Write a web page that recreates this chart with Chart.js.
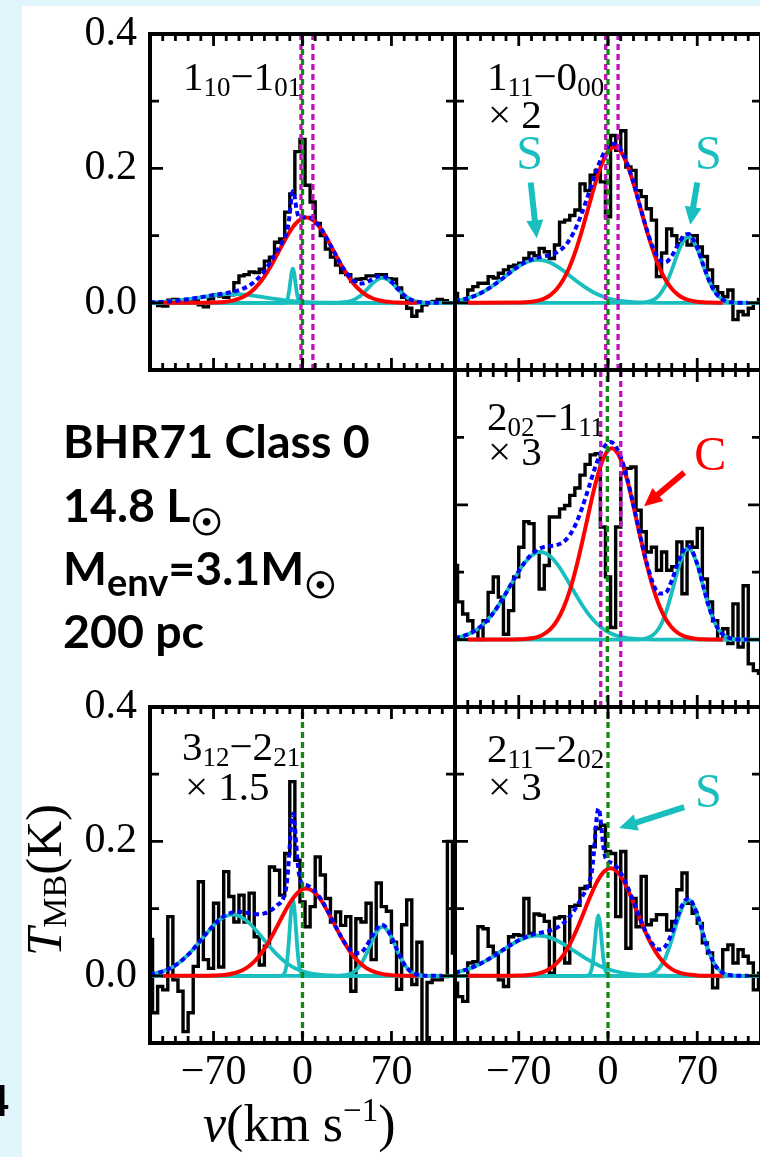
<!DOCTYPE html>
<html>
<head>
<meta charset="utf-8">
<script src="https://cdn.jsdelivr.net/npm/chart.js@4.4.1/dist/chart.umd.min.js"></script>
<style>
  html, body { margin: 0; padding: 0; }
  body { width: 760px; height: 1157px; overflow: hidden; position: relative; background: #e1f6fc; }
  #sheet { position: absolute; left: 22px; top: 6px; right: 0; bottom: 0; background: #fff; }
  canvas { position: absolute; }
  .t { position: absolute; line-height: 0; white-space: nowrap; color: #000; }
  .lab { font-family: 'Liberation Serif', serif; font-size: 41px; }
  .sb { font-size: 27px; position: relative; top: 6px; }
  .info { font-family: Lato, sans-serif; font-weight: 700; font-size: 46.5px; }
  .sun { font-family: 'DejaVu Sans', sans-serif; font-weight: 700; font-size: 36px; position: relative; top: 13px; -webkit-text-stroke: 1.2px #000; }
  .env { font-size: 38px; position: relative; top: 11px; }
  .axt { font-family: 'Liberation Serif', serif; }
</style>
</head>
<body>
<div id="sheet"></div>

<canvas id="p1"></canvas>
<canvas id="p2"></canvas>
<canvas id="p3"></canvas>
<canvas id="p4"></canvas>
<canvas id="p5"></canvas>

<!-- transition labels -->
<div class="t lab" style="left:183px;top:76px">1<span class="sb">10</span>−1<span class="sb">01</span></div>
<div class="t lab" style="left:487px;top:76px">1<span class="sb">11</span>−0<span class="sb">00</span></div>
<div class="t lab" style="left:488px;top:114px">× 2</div>
<div class="t lab" style="left:487px;top:416px">2<span class="sb">02</span>−1<span class="sb">11</span></div>
<div class="t lab" style="left:488px;top:451px">× 3</div>
<div class="t lab" style="left:182px;top:746px">3<span class="sb">12</span>−2<span class="sb">21</span></div>
<div class="t lab" style="left:185px;top:786px">× 1.5</div>
<div class="t lab" style="left:487px;top:748px">2<span class="sb">11</span>−2<span class="sb">02</span></div>
<div class="t lab" style="left:488px;top:786px">× 3</div>

<!-- source properties -->
<div class="t info" style="left:63px;top:440px">BHR71 Class 0</div>
<div class="t info" style="left:63px;top:504px">14.8 L<span class="sun">☉</span></div>
<div class="t info" style="left:63px;top:567px">M<span class="env">env</span>=3.1M<span class="sun">☉</span></div>
<div class="t info" style="left:63px;top:630px">200 pc</div>
<div class="t info" style="left:-15px;top:1100px;font-size:42px">4</div>

<!-- axis titles -->
<div class="t axt" style="left:44px;top:956px;font-size:51px;transform-origin:0 0;transform:rotate(-90deg)"><i>T</i><span style="font-size:34px;position:relative;top:5px">MB</span>(K)</div>
<div class="t axt" style="left:203px;top:1124px;font-size:52px"><i>v</i>(km s<span style="font-size:33px;position:relative;top:-20px">−1</span>)</div>

<script>
// ---- channel velocities (km/s) shared by all spectra ----
const velocity = [-120,-116,-112,-108,-104,-100,-96,-92,-88,-84,-80,-76,-72,-68,-64,-60,-56,-52,-48,-44,
  -40,-36,-32,-28,-24,-20,-16,-12,-8,-4,0,4,8,12,16,20,24,28,32,36,40,44,48,52,56,60,64,68,72,76,
  80,84,88,92,96,100,104,108,112,116,120];

// ---- observed spectra, T_MB (K) ----
const tmb_110_101 = [0,0,-0.004,-0.005,0.004,0.005,0.003,0.002,0.002,0.003,
  -0.003,-0.006,0.006,0.012,0.01,0.008,0.012,0.03,0.04,0.042,
  0.046,0.045,0.05,0.062,0.068,0.09,0.095,0.135,0.162,0.225,
  0.243,0.175,0.15,0.118,0.1,0.08,0.068,0.056,0.045,0.042,
  0.032,0.035,0.036,0.04,0.04,0.042,0.042,0.036,0.035,0.022,
  0.008,-0.008,-0.02,-0.012,-0.003,0,0.002,0.005,0.003,0,0];
const tmb_111_000 = [0.014,0.002,0.002,0.019,0.024,0.029,0.029,0.039,0.037,0.044,
  0.049,0.054,0.056,0.059,0.066,0.074,0.07,0.081,0.076,0.066,
  0.086,0.12,0.123,0.13,0.138,0.177,0.167,0.19,0.197,0.18,
  0.128,0.249,0.227,0.256,0.202,0.197,0.167,0.158,0.14,0.123,
  0.039,0.074,0.11,0.1,0.088,0.096,0.086,0.1,0.083,0.069,
  0.049,0.024,0.015,0.009,0.019,-0.025,-0.013,-0.018,-0.008,0,0.005];
const tmb_202_111 = [0.11,0.056,0.038,0.028,0.013,0,0.028,0.07,0.093,0.063,
  0.008,0.043,0.093,0.137,0.175,0.172,0.13,0.075,0.11,0.182,
  0.182,0.194,0.199,0.214,0.225,0.244,0.26,0.274,0.276,0.167,
  0.093,0.018,0.167,0.247,0.254,0.256,0.192,0.16,0.13,0.137,
  0.103,0.13,0.103,0.108,0.145,0.068,0.145,0.137,0.165,0.09,
  0.056,0.028,0,0.016,-0.006,0.053,-0.011,0.08,-0.036,-0.046,-0.05];
const tmb_312_221 = [0.054,-0.055,-0.016,-0.021,0.088,-0.006,-0.023,-0.083,-0.055,0.014,
  0.14,0.024,0.011,0.108,0.013,0.155,0.118,0.08,0.12,0.08,
  0.123,0.058,0.016,0.044,0.162,0.157,0.12,0.182,0.289,0.172,
  0.11,0.073,0.103,0.177,0.15,0.115,0.08,0.095,0.075,0.088,
  -0.023,0.085,0.08,0.108,0.024,0.138,0.103,0.096,0.05,-0.02,
  0.076,0.113,-0.013,0.05,-0.12,-0.01,-0.006,-0.006,-0.001,0.2,0.034];
const tmb_211_202 = [-0.011,-0.031,-0.038,0.019,0.021,0.073,0.07,0.044,0.034,-0.006,
  -0.016,0.058,0.061,0.06,0.115,0.063,0.092,0.09,0.081,0.004,
  0.086,0.088,0.019,0.103,0.105,0.13,0.133,0.192,0.219,0.224,
  0.185,0.182,0.088,0.185,0.041,0.115,0.073,0.148,0.076,0.083,
  0.091,0.091,0.068,0.081,0.128,0.153,0.108,0.093,0.078,0.049,
  0.034,-0.018,-0.001,0.039,0.046,0.019,0.039,0.029,0.019,-0.021,0.004];

// ---- fitted components, [v, T] ----
// 1_10-1_01
const cav_110 = [[-110,0],[-75,0.0002],[-70,0.0004],[-65,0.0009],[-60,0.0017],[-55,0.0033],[-50,0.0061],[-45,0.0105],[-40,0.0172],[-35,0.0267],[-30,0.0391],[-25,0.0544],[-20,0.0717],[-15,0.0895],[-10,0.1058],[-5,0.1185],[0,0.1258],[3,0.127],[5,0.1265],[10,0.1204],[15,0.1087],[20,0.0929],[25,0.0752],[30,0.0577],[35,0.042],[40,0.0289],[45,0.0189],[50,0.0116],[55,0.0068],[60,0.0038],[65,0.002],[70,0.001],[75,0.0005],[90,0]];
const shockB_110 = [[-120,0.0006],[-115,0.0009],[-110,0.0014],[-105,0.002],[-100,0.0029],[-95,0.004],[-90,0.0053],[-85,0.0067],[-80,0.0082],[-75,0.0097],[-70,0.011],[-65,0.0121],[-60,0.0128],[-55,0.013],[-50,0.0128],[-45,0.0121],[-40,0.011],[-35,0.0097],[-30,0.0082],[-25,0.0067],[-20,0.0053],[-15,0.004],[-10,0.0029],[-5,0.002],[0,0.0014],[5,0.0009],[10,0.0006],[15,0.0004],[25,0.0001],[40,0],[120,0]];
const narrow_110 = [[-120,0],[-14,0],[-12,0.0045],[-10.5,0.0178],[-9.6,0.0309],[-8.6,0.045],[-7.6,0.051],[-6.6,0.045],[-5.6,0.0309],[-4.7,0.0178],[-3.2,0.0045],[-1.2,0],[120,0]];
const shockR_110 = [[-120,0],[25,0],[30,0.0004],[35,0.0015],[40,0.0042],[45,0.0097],[50,0.0184],[55,0.0284],[60,0.0356],[63,0.037],[65,0.0364],[70,0.0302],[75,0.0204],[80,0.0112],[85,0.005],[90,0.0018],[95,0.0005],[100,0],[120,0]];
const total_110 = [[-120,0.0006],[-115,0.0009],[-110,0.0014],[-105,0.002],[-100,0.0029],[-95,0.004],[-90,0.0053],[-85,0.0067],[-80,0.0083],[-75,0.0099],[-70,0.0114],[-65,0.013],[-60,0.0145],[-55,0.0163],[-50,0.0189],[-45,0.0226],[-40,0.0282],[-35,0.0364],[-30,0.0473],[-25,0.0611],[-20,0.077],[-15,0.0935],[-14,0.0966],[-12,0.1074],[-10.5,0.1252],[-9.6,0.1408],[-8.6,0.1577],[-7.6,0.1663],[-6.6,0.1625],[-5.6,0.1506],[-4.7,0.1393],[-3.2,0.1285],[-1.2,0.1265],[0,0.1272],[5,0.1274],[10,0.121],[15,0.1091],[20,0.0929],[25,0.0753],[30,0.0581],[35,0.0435],[40,0.0331],[45,0.0286],[50,0.03],[55,0.0352],[60,0.0394],[63,0.0396],[65,0.0384],[70,0.0312],[75,0.0209],[80,0.0112],[85,0.005],[90,0.0018],[95,0.0005],[100,0],[110,0]];

// 1_11-0_00
const cav_111 = [[-110,0],[-70,0.0003],[-65,0.0007],[-60,0.0015],[-55,0.0032],[-50,0.0063],[-45,0.0119],[-40,0.0209],[-35,0.0346],[-30,0.054],[-25,0.0795],[-20,0.1102],[-15,0.1441],[-10,0.1775],[-5,0.206],[0,0.2252],[5,0.232],[10,0.2252],[15,0.206],[20,0.1775],[25,0.1441],[30,0.1102],[35,0.0795],[40,0.054],[45,0.0346],[50,0.0209],[55,0.0119],[60,0.0063],[65,0.0032],[70,0.0015],[75,0.0007],[80,0.0003],[90,0]];
const shockB_111 = [[-120,0.0028],[-115,0.0045],[-110,0.0068],[-105,0.01],[-100,0.0143],[-95,0.0196],[-90,0.0259],[-85,0.0329],[-80,0.0403],[-75,0.0476],[-70,0.0542],[-65,0.0595],[-60,0.0628],[-55,0.064],[-50,0.0628],[-45,0.0595],[-40,0.0542],[-35,0.0476],[-30,0.0403],[-25,0.0329],[-20,0.0259],[-15,0.0196],[-10,0.0143],[-5,0.01],[0,0.0068],[5,0.0045],[10,0.0028],[15,0.0017],[20,0.001],[25,0.0006],[30,0.0003],[40,0],[120,0]];
const shockR_111 = [[-120,0],[25,0],[30,0.0011],[35,0.0038],[40,0.011],[45,0.0257],[50,0.0487],[55,0.0753],[60,0.0944],[63,0.098],[65,0.0964],[70,0.0801],[75,0.0541],[80,0.0297],[85,0.0133],[90,0.0048],[95,0.0014],[100,0.0003],[105,0],[120,0]];
const total_111 = [[-120,0.0028],[-115,0.0045],[-110,0.0068],[-105,0.01],[-100,0.0143],[-95,0.0196],[-90,0.0259],[-85,0.0329],[-80,0.0403],[-75,0.0476],[-70,0.0545],[-65,0.0602],[-60,0.0643],[-55,0.0672],[-50,0.0691],[-45,0.0714],[-40,0.0751],[-35,0.0822],[-30,0.0943],[-25,0.1124],[-20,0.1361],[-15,0.1637],[-10,0.1918],[-5,0.216],[0,0.232],[5,0.2365],[10,0.228],[15,0.2077],[20,0.1785],[25,0.1447],[30,0.1116],[35,0.0833],[40,0.065],[45,0.0603],[50,0.0696],[55,0.0872],[60,0.1007],[63,0.1022],[65,0.0996],[70,0.0816],[75,0.0548],[80,0.0297],[85,0.0133],[90,0.0048],[95,0.0014],[100,0.0003],[110,0]];

// 2_02-1_11
const cav_202 = [[-110,0],[-75,0.0002],[-70,0.0004],[-65,0.0009],[-60,0.002],[-55,0.0042],[-50,0.0085],[-45,0.0159],[-40,0.0282],[-35,0.0467],[-30,0.0728],[-25,0.1066],[-20,0.1466],[-15,0.1894],[-10,0.23],[-5,0.2621],[0,0.2808],[3,0.284],[5,0.2826],[10,0.2672],[15,0.2372],[20,0.1979],[25,0.1551],[30,0.1142],[35,0.0789],[40,0.0513],[45,0.0313],[50,0.018],[55,0.0097],[60,0.0049],[65,0.0023],[70,0.001],[75,0.0004],[90,0]];
const shockB_202 = [[-120,0.0027],[-115,0.0046],[-110,0.0077],[-105,0.0124],[-100,0.0191],[-95,0.0281],[-90,0.0395],[-85,0.0534],[-80,0.069],[-75,0.0854],[-70,0.1011],[-65,0.1147],[-60,0.1245],[-55,0.1295],[-53,0.13],[-50,0.129],[-45,0.123],[-40,0.1123],[-35,0.0981],[-30,0.0822],[-25,0.0659],[-20,0.0505],[-15,0.037],[-10,0.0261],[-5,0.0176],[0,0.0113],[5,0.007],[10,0.0041],[15,0.0023],[20,0.0013],[25,0.0007],[30,0.0003],[40,0],[120,0]];
const shockR_202 = [[-120,0],[25,0],[30,0.0019],[35,0.0063],[40,0.017],[45,0.0379],[50,0.0697],[55,0.105],[60,0.1303],[63,0.135],[65,0.1329],[70,0.1114],[75,0.0768],[80,0.0436],[85,0.0203],[90,0.0078],[95,0.0024],[100,0.0006],[105,0],[120,0]];
const total_202 = [[-120,0.0027],[-115,0.0046],[-110,0.0077],[-105,0.0124],[-100,0.0191],[-95,0.0281],[-90,0.0395],[-85,0.0534],[-80,0.069],[-75,0.0856],[-70,0.1015],[-65,0.1156],[-60,0.1265],[-55,0.1337],[-50,0.1375],[-45,0.1389],[-40,0.1405],[-35,0.1448],[-30,0.155],[-25,0.1725],[-20,0.1971],[-15,0.2264],[-10,0.2561],[-5,0.2797],[0,0.2921],[2,0.293],[5,0.2896],[10,0.2713],[15,0.2395],[20,0.1992],[25,0.1558],[30,0.1164],[35,0.0852],[40,0.0683],[45,0.0692],[50,0.0877],[55,0.1147],[60,0.1352],[63,0.1382],[65,0.1352],[70,0.1124],[75,0.0772],[80,0.0436],[85,0.0203],[90,0.0078],[95,0.0024],[100,0.0006],[110,0]];

// 3_12-2_21
const cav_312 = [[-110,0],[-80,0.0001],[-75,0.0002],[-70,0.0004],[-65,0.0009],[-60,0.0017],[-55,0.0034],[-50,0.0062],[-45,0.0107],[-40,0.0176],[-35,0.0273],[-30,0.04],[-25,0.0557],[-20,0.0734],[-15,0.0916],[-10,0.1083],[-5,0.1213],[0,0.1288],[3,0.13],[5,0.1295],[10,0.1232],[15,0.1113],[20,0.0951],[25,0.077],[30,0.0591],[35,0.043],[40,0.0296],[45,0.0193],[50,0.0119],[55,0.007],[60,0.0039],[65,0.002],[70,0.001],[75,0.0005],[90,0]];
const shockB_312 = [[-120,0.0023],[-115,0.004],[-110,0.0066],[-105,0.0104],[-100,0.0157],[-95,0.0227],[-90,0.0314],[-85,0.0417],[-80,0.0529],[-75,0.0643],[-70,0.0749],[-65,0.0834],[-60,0.089],[-55,0.091],[-50,0.089],[-45,0.0834],[-40,0.0749],[-35,0.0643],[-30,0.0529],[-25,0.0417],[-20,0.0314],[-15,0.0227],[-10,0.0157],[-5,0.0104],[0,0.0066],[5,0.004],[10,0.0023],[15,0.0013],[20,0.0007],[25,0.0004],[35,0],[120,0]];
const narrow_312 = [[-120,0],[-17.5,0],[-15.1,0.0013],[-12.6,0.0153],[-11.35,0.0367],[-10.1,0.0685],[-8.85,0.0997],[-7.6,0.113],[-6.35,0.0997],[-5.1,0.0685],[-3.85,0.0367],[-2.6,0.0153],[-0.1,0.0013],[2.3,0],[120,0]];
const shockR_312 = [[-120,0],[25,0],[30,0.0003],[35,0.0014],[40,0.0052],[45,0.0144],[50,0.0314],[55,0.053],[60,0.0698],[63,0.073],[65,0.0716],[70,0.0571],[75,0.0355],[80,0.0172],[85,0.0065],[90,0.0019],[95,0.0004],[100,0],[120,0]];
const total_312 = [[-120,0.0023],[-115,0.004],[-110,0.0066],[-105,0.0104],[-100,0.0157],[-95,0.0227],[-90,0.0314],[-85,0.0417],[-80,0.053],[-75,0.0645],[-70,0.0753],[-65,0.0843],[-60,0.0907],[-55,0.0944],[-50,0.0952],[-45,0.0941],[-40,0.0925],[-35,0.0916],[-30,0.0929],[-25,0.0974],[-20,0.1048],[-15.1,0.1153],[-12.6,0.1343],[-11.35,0.1582],[-10.1,0.1923],[-8.85,0.2257],[-7.6,0.2412],[-6.35,0.2297],[-5.1,0.2001],[-3.85,0.1697],[-2.6,0.1494],[-0.1,0.1367],[3,0.1349],[5,0.1335],[10,0.1255],[15,0.1126],[20,0.0958],[25,0.0774],[30,0.0594],[35,0.0444],[40,0.0348],[45,0.0337],[50,0.0433],[55,0.06],[60,0.0737],[63,0.0756],[65,0.0736],[70,0.0581],[75,0.036],[80,0.0174],[85,0.0066],[90,0.0019],[95,0.0004],[100,0],[110,0]];

// 2_11-2_02
const cav_211 = [[-110,0],[-75,0.0001],[-70,0.0003],[-65,0.0007],[-60,0.0016],[-55,0.0032],[-50,0.0062],[-45,0.0113],[-40,0.0192],[-35,0.0309],[-30,0.0467],[-25,0.0666],[-20,0.0895],[-15,0.1131],[-10,0.1346],[-5,0.1508],[0,0.1592],[2,0.16],[5,0.1583],[10,0.1482],[15,0.1306],[20,0.1084],[25,0.0848],[30,0.0624],[35,0.0432],[40,0.0282],[45,0.0173],[50,0.01],[55,0.0055],[60,0.0028],[65,0.0014],[70,0.0006],[75,0.0002],[90,0]];
const shockB_211 = [[-120,0.0049],[-115,0.0071],[-110,0.0099],[-105,0.0136],[-100,0.018],[-95,0.0232],[-90,0.029],[-85,0.0351],[-80,0.0414],[-75,0.0473],[-70,0.0525],[-65,0.0565],[-60,0.0591],[-55,0.06],[-50,0.0591],[-45,0.0565],[-40,0.0525],[-35,0.0473],[-30,0.0414],[-25,0.0351],[-20,0.029],[-15,0.0232],[-10,0.018],[-5,0.0136],[0,0.0099],[5,0.0071],[10,0.0049],[15,0.0033],[20,0.0021],[25,0.0013],[30,0.0008],[35,0.0005],[40,0.0003],[50,0],[120,0]];
const narrow_211 = [[-120,0],[-17.5,0],[-15.1,0.001],[-12.6,0.0122],[-11.35,0.0292],[-10.1,0.0546],[-8.85,0.0794],[-7.6,0.09],[-6.35,0.0794],[-5.1,0.0546],[-3.85,0.0292],[-2.6,0.0122],[-0.1,0.001],[2.3,0],[120,0]];
const shockR_211 = [[-120,0],[25,0],[30,0.0009],[35,0.0034],[40,0.0107],[45,0.0267],[50,0.0533],[55,0.085],[60,0.1086],[63,0.113],[65,0.111],[70,0.0909],[75,0.0595],[80,0.0312],[85,0.0131],[90,0.0044],[95,0.0012],[100,0.0003],[105,0],[120,0]];
const total_211 = [[-120,0.0049],[-115,0.0071],[-110,0.0099],[-105,0.0136],[-100,0.018],[-95,0.0232],[-90,0.029],[-85,0.0351],[-80,0.0415],[-75,0.0475],[-70,0.0528],[-65,0.0572],[-60,0.0607],[-55,0.0632],[-50,0.0653],[-45,0.0678],[-40,0.0717],[-35,0.0782],[-30,0.0881],[-25,0.1017],[-20,0.1185],[-15.1,0.1369],[-12.6,0.1566],[-11.35,0.1777],[-10.1,0.2069],[-8.85,0.2352],[-7.6,0.249],[-6.35,0.2412],[-5.1,0.2189],[-3.85,0.1955],[-2.6,0.1799],[-0.1,0.1702],[2,0.1687],[5,0.1654],[10,0.1531],[15,0.1339],[20,0.1105],[25,0.0861],[30,0.0641],[35,0.0471],[40,0.0392],[45,0.044],[50,0.0633],[55,0.0905],[60,0.1114],[63,0.1148],[65,0.1124],[70,0.0915],[75,0.0597],[80,0.0313],[85,0.0131],[90,0.0044],[95,0.0012],[100,0.0003],[110,0]];

// ---- velocity markers (km/s) ----
const magenta_110 = [-1.2, 8.2];
const magenta_111 = [-1.8, 7.9];
const magenta_202 = [-5.7, 10];
const green_110 = [0];
const green_111 = [0];
const green_202 = [-0.5];
const green_312 = [0];
const green_211 = [0];

// ---- axis ticks ----
const xTickValues = [-70, 0, 70];
const xTickLabels = ['\u221270', '0', '70'];
const xMinorTicks = [-110,-100,-90,-80,-70,-60,-50,-40,-30,-20,-10,0,10,20,30,40,50,60,70,80,90,100,110];
const yTickValues = [0, 0.2, 0.4];
const yTickLabels = ['0.0', '0.2', '0.4'];
const yMinorTicks = [0.1, 0.3];

// ---- colours ----
const CYAN = '#19bfbf', RED = '#ff0000', BLUE = '#0000ff', MAGENTA = '#c010c0', GREEN = '#108a10';

// ---- panel layout: plot rectangle in page pixels [left, top, right, bottom] ----
const panels = [
  { id: 'p1', plot: [150, 34, 455, 370], yLabels: true, xLabels: false,
    spec: tmb_110_101, cav: cav_110, shocks: [shockB_110, narrow_110, shockR_110], total: total_110,
    magenta: magenta_110, green: green_110, notes: [], arrows: [] },
  { id: 'p2', plot: [455, 34, 761, 370], yLabels: false, xLabels: false,
    spec: tmb_111_000, cav: cav_111, shocks: [shockB_111, shockR_111], total: total_111,
    magenta: magenta_111, green: green_111,
    notes: [{ text: 'S', v: -61.4, t: 0.218, color: CYAN }, { text: 'S', v: 78.7, t: 0.218, color: CYAN }],
    arrows: [{ from: [-60.6, 0.179], to: [-55.9, 0.096], color: CYAN }, { from: [70, 0.179], to: [64.5, 0.116], color: CYAN }] },
  { id: 'p3', plot: [455, 370, 761, 707], yLabels: false, xLabels: false,
    spec: tmb_202_111, cav: cav_202, shocks: [shockB_202, shockR_202], total: total_202,
    magenta: magenta_202, green: green_202,
    notes: [{ text: 'C', v: 80.3, t: 0.271, color: RED }],
    arrows: [{ from: [59.8, 0.248], to: [28.3, 0.198], color: RED }] },
  { id: 'p4', plot: [150, 707, 455, 1043], yLabels: true, xLabels: true,
    spec: tmb_312_221, cav: cav_312, shocks: [shockB_312, narrow_312, shockR_312], total: total_312,
    magenta: [], green: green_312, notes: [], arrows: [] },
  { id: 'p5', plot: [455, 707, 761, 1043], yLabels: false, xLabels: true,
    spec: tmb_211_202, cav: cav_211, shocks: [shockB_211, narrow_211, shockR_211], total: total_211,
    magenta: [], green: green_211,
    notes: [{ text: 'S', v: 78.7, t: 0.27, color: CYAN }],
    arrows: [{ from: [59.8, 0.251], to: [8.7, 0.22], color: CYAN }] }
];

const toPoints = pairs => pairs.map(p => ({ x: p[0], y: p[1] }));

// box with inward ticks on all four sides
const frameTicks = {
  id: 'frameTicks',
  afterDatasetsDraw(chart) {
    const { ctx, chartArea: a } = chart;
    const xs = chart.scales.x, ys = chart.scales.y;
    ctx.save();
    ctx.strokeStyle = '#000';
    ctx.lineWidth = 2.8;
    ctx.beginPath();
    xMinorTicks.forEach(v => {
      const px = xs.getPixelForValue(v);
      const len = xTickValues.includes(v) ? 12 : 7;
      ctx.moveTo(px, a.top); ctx.lineTo(px, a.top + len);
      ctx.moveTo(px, a.bottom); ctx.lineTo(px, a.bottom - len);
    });
    yTickValues.concat(yMinorTicks).forEach(v => {
      const py = ys.getPixelForValue(v);
      const len = yTickValues.includes(v) ? 13 : 9;
      ctx.moveTo(a.left, py); ctx.lineTo(a.left + len, py);
      ctx.moveTo(a.right, py); ctx.lineTo(a.right - len, py);
    });
    ctx.stroke();
    ctx.lineWidth = 4;
    ctx.strokeRect(a.left, a.top, a.right - a.left, a.bottom - a.top);
    ctx.restore();
  }
};

// component labels and pointer arrows
const callouts = {
  id: 'callouts',
  afterDraw(chart) {
    const p = chart.config.options.plugins.callouts;
    if (!p) return;
    const { ctx } = chart;
    const xs = chart.scales.x, ys = chart.scales.y;
    ctx.save();
    p.arrows.forEach(ar => {
      const x0 = xs.getPixelForValue(ar.from[0]), y0 = ys.getPixelForValue(ar.from[1]);
      const x1 = xs.getPixelForValue(ar.to[0]), y1 = ys.getPixelForValue(ar.to[1]);
      const dx = x1 - x0, dy = y1 - y0, d = Math.hypot(dx, dy);
      const ux = dx / d, uy = dy / d;
      const head = 18, half = 8.5;
      const bx = x1 - ux * head, by = y1 - uy * head;
      ctx.strokeStyle = ar.color; ctx.fillStyle = ar.color;
      ctx.lineWidth = 6; ctx.lineCap = 'butt';
      ctx.beginPath(); ctx.moveTo(x0, y0); ctx.lineTo(bx + ux, by + uy); ctx.stroke();
      ctx.beginPath();
      ctx.moveTo(x1, y1);
      ctx.lineTo(bx - uy * half, by + ux * half);
      ctx.lineTo(bx + uy * half, by - ux * half);
      ctx.closePath(); ctx.fill();
    });
    p.notes.forEach(n => {
      ctx.fillStyle = n.color;
      ctx.font = "48px 'Liberation Serif'";
      ctx.textAlign = 'center';
      ctx.textBaseline = 'middle';
      ctx.fillText(n.text, xs.getPixelForValue(n.v), ys.getPixelForValue(n.t));
    });
    ctx.restore();
  }
};

function buildPanel(p) {
  const cv = document.getElementById(p.id);
  const L = p.yLabels ? 90 : 10, R = 10, T = 45, B = p.xLabels ? 70 : 45;
  const [x0, y0, x1, y1] = p.plot;
  cv.width = (x1 - x0) + L + R;
  cv.height = (y1 - y0) + T + B;
  cv.style.left = (x0 - L) + 'px';
  cv.style.top = (y0 - T) + 'px';

  const datasets = [];
  datasets.push({ data: velocity.map((v, i) => ({ x: v, y: p.spec[i] })), borderColor: '#000', borderWidth: 3.4, stepped: 'middle', order: 6 });
  p.shocks.forEach(s => datasets.push({ data: toPoints(s), borderColor: CYAN, borderWidth: 3.8, cubicInterpolationMode: 'monotone', order: 5 }));
  datasets.push({ data: toPoints(p.cav), borderColor: RED, borderWidth: 4, cubicInterpolationMode: 'monotone', order: 4 });
  datasets.push({ data: toPoints(p.total), borderColor: BLUE, borderWidth: 4, borderDash: [5, 3.5], cubicInterpolationMode: 'monotone', order: 3 });
  p.magenta.forEach(v => datasets.push({ data: [{ x: v, y: -0.1 }, { x: v, y: 0.4 }], borderColor: MAGENTA, borderWidth: 3.3, borderDash: [6, 4], order: 2 }));
  p.green.forEach(v => datasets.push({ data: [{ x: v, y: -0.1 }, { x: v, y: 0.4 }], borderColor: GREEN, borderWidth: 3.3, borderDash: [6, 4], borderDashOffset: 5, order: 1 }));

  new Chart(cv, {
    type: 'line',
    data: { datasets },
    options: {
      responsive: false,
      animation: false,
      devicePixelRatio: 1,
      events: [],
      layout: { padding: { left: 0, top: T, right: R, bottom: 0 } },
      elements: { point: { radius: 0 }, line: { tension: 0, fill: false, borderCapStyle: 'butt' } },
      plugins: { legend: { display: false }, tooltip: { enabled: false }, callouts: { notes: p.notes, arrows: p.arrows } },
      scales: {
        x: {
          type: 'linear', position: 'bottom', min: -120, max: 120,
          grid: { display: false, drawTicks: false }, border: { display: false },
          afterBuildTicks: s => { s.ticks = xTickValues.map(v => ({ value: v })); },
          ticks: { display: p.xLabels, autoSkip: false, maxRotation: 0, padding: 5, color: '#000',
                   font: { family: 'Liberation Serif', size: 42 }, callback: (v, i) => xTickLabels[i] },
          afterFit: s => { s.height = B; }
        },
        y: {
          type: 'linear', position: 'left', min: -0.1, max: 0.4,
          grid: { display: false, drawTicks: false }, border: { display: false },
          afterBuildTicks: s => { s.ticks = yTickValues.map(v => ({ value: v })); },
          ticks: { display: p.yLabels, autoSkip: false, padding: 13, color: '#000',
                   font: { family: 'Liberation Serif', size: 42 }, callback: (v, i) => yTickLabels[i] },
          afterFit: s => { s.width = L; }
        }
      }
    },
    plugins: [frameTicks, callouts]
  });
}

panels.forEach(buildPanel);
</script>
</body>
</html>
